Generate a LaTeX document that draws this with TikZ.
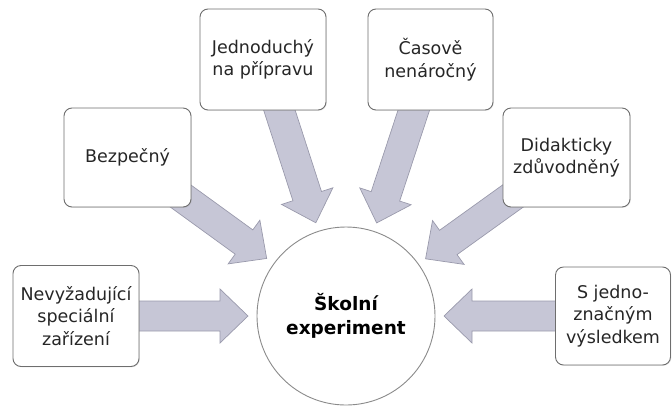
\documentclass[tikz,border=0pt]{standalone}
\usepackage{fontspec}
\setmainfont{DejaVu Sans}
\usetikzlibrary{calc,backgrounds,shadows}
\definecolor{arrfill}{HTML}{C6C6D6}
\definecolor{arrline}{HTML}{9A9AAC}
\definecolor{boxline}{HTML}{6E6E6E}
\definecolor{txt}{HTML}{262626}
\tikzset{
  box/.style={draw=boxline, line width=0.9pt, fill=white, rounded corners=8pt,
    align=center, text=txt, inner sep=2pt,
    font=\fontsize{17.5}{22.5}\selectfont,
    drop shadow={opacity=0.18, shadow xshift=0.8pt, shadow yshift=-0.8pt}},
  hub/.style={circle, draw=boxline!80, line width=0.9pt, fill=white,
    minimum size=178pt, inner sep=0pt, align=center, text=black,
    font=\fontsize{18.5}{24}\selectfont\bfseries},
  fatarrow/.style={fill=arrfill, draw=arrline, line width=0.7pt, line join=miter}
}
\newcommand\fatarr[2]{%
  \coordinate (H) at ($(#2.center)!126pt!(#1.center)$);
  \coordinate (T) at ($(#2.center)!98pt!(#1.center)$);
  \draw[fatarrow] ($(#1.center)!15pt!90:(#2.center)$)
    -- ($(H)!15pt!-90:(#1.center)$)
    -- ($(H)!27pt!-90:(#1.center)$)
    -- (T)
    -- ($(H)!27pt!90:(#1.center)$)
    -- ($(H)!15pt!90:(#1.center)$)
    -- ($(#1.center)!15pt!-90:(#2.center)$) -- cycle;
}
\begin{document}
\begin{tikzpicture}[x=1pt,y=-1pt]
\useasboundingbox (0,0) rectangle (672,405);
\node[hub] (c) at (346,316) {Školní\\experiment};
\node[box, minimum width=126pt, minimum height=101pt] (jed) at (263,59.5) {Jednoduchý\\na přípravu};
\node[box, minimum width=127pt, minimum height=99pt] (bez) at (127.5,157.5) {Bezpečný};
\node[box, minimum width=125pt, minimum height=101pt] (cas) at (430.5,59.5) {Časově\\nenáročný};
\node[box, minimum width=127pt, minimum height=99pt] (did) at (566.5,157.5) {Didakticky\\zdůvodněný};
\node[box, minimum width=126pt, minimum height=101pt] (nev) at (76,316) {Nevyžadující\\speciální\\zařízení};
\node[box, minimum width=115pt, minimum height=98pt] (sje) at (613,316) {S jedno-\\značným\\výsledkem};
\begin{scope}[on background layer]
\fatarr{jed}{c}
\fatarr{bez}{c}
\fatarr{cas}{c}
\fatarr{did}{c}
\fatarr{nev}{c}
\fatarr{sje}{c}
\end{scope}
\end{tikzpicture}
\end{document}
